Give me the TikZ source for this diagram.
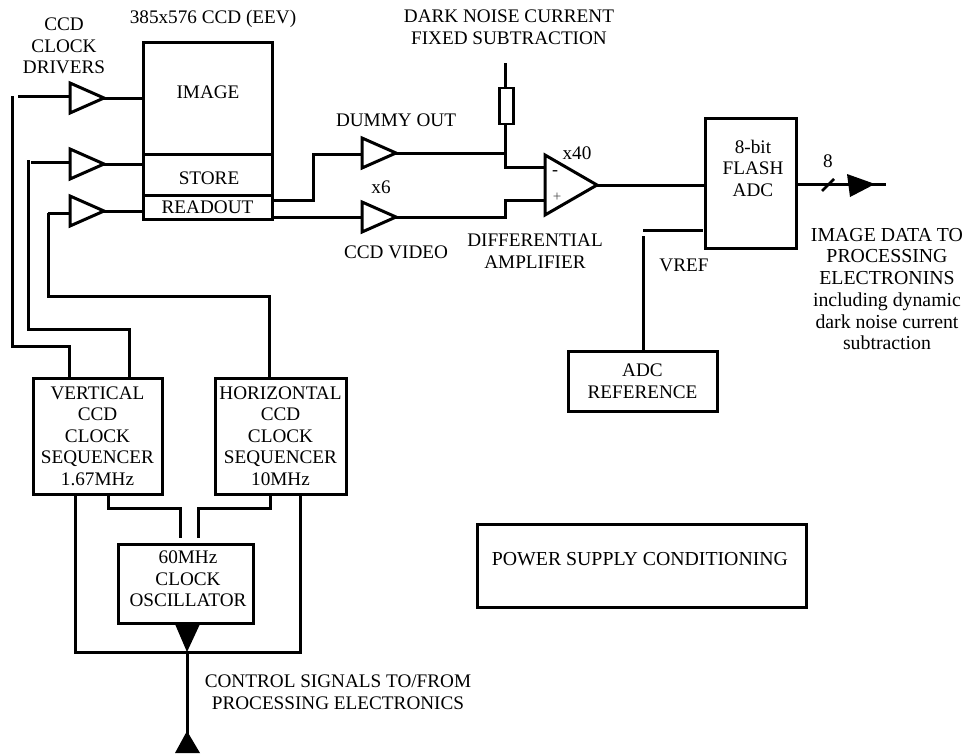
\documentclass[tikz,border=0pt]{standalone}
\usepackage{fontspec}
\setmainfont{Liberation Serif}
\usepackage{xcolor}
\usetikzlibrary{arrows.meta,shapes.geometric,positioning}
\tikzset{
  sigline/.style={line width=3pt,line cap=butt,line join=miter},
  blk/.style={draw,line width=3pt,inner sep=0pt,align=center,font=\fontsize{19.2}{21.5}\selectfont},
  lbl/.style={inner sep=0pt,align=center,font=\fontsize{19.2}{21.5}\selectfont},
  lblwide/.style={lbl,font=\fontsize{19.8}{21.7}\selectfont},
  amp/.style={draw,line width=3pt,isosceles triangle,isosceles triangle stretches,
    minimum width=30pt,minimum height=34pt,inner sep=0pt,outer sep=0pt,anchor=west},
  headfill/.style={fill=black,draw=none}
}
\begin{document}
\begin{tikzpicture}[x=1pt,y=-1pt]
  \useasboundingbox (0,0) rectangle (964,753);

  % ccd
  \node[blk,minimum width=129pt,minimum height=112pt] (imagebox) at (207.5,98) {};
  \node[blk,minimum width=129pt,minimum height=41pt] (storebox) at (207.5,174.5) {};
  \node[blk,minimum width=129pt,minimum height=24pt] (readoutbox) at (207.5,207) {READOUT};
  \node[lbl] (imagelbl) at (208,92) {IMAGE};
  \node[lbl] (storelbl) at (209,178) {STORE};
  \node[lbl] (ccdlbl) at (213,19) {385x576 CCD (EEV)};
  \node[lbl] (driverlbl) at (64,46) {CCD\\CLOCK\\DRIVERS};

  % clock drivers
  \node[amp] (ampa) at (70,98) {};
  \node[amp] (ampb) at (70,164) {};
  \node[amp] (ampc) at (70,211) {};
  \coordinate (ina) at (18,96);
  \coordinate (inb) at (31,162);
  \coordinate (inc) at (48,213);
  \draw[sigline] (ina) -- (ampa.west |- ina);
  \draw[sigline] (inb) -- (ampb.west |- inb);
  \draw[sigline] (inc) -- (ampc.west |- inc);
  \draw[sigline] (ampa.east) -- (imagebox.west |- ampa.east);
  \draw[sigline] (ampb.east) -- (storebox.west |- ampb.east);
  \draw[sigline] (ampc.east) -- (readoutbox.west |- ampc.east);

  % sequencers
  \node[blk,minimum width=129pt,minimum height=116pt] (vertseq) at (97.5,436)
    {VERTICAL\\CCD\\CLOCK\\SEQUENCER\\1.67MHz};
  \node[blk,minimum width=131pt,minimum height=116pt] (horseq) at (280.5,436)
    {HORIZONTAL\\CCD\\CLOCK\\SEQUENCER\\10MHz};
  \node[blk,minimum width=135pt,minimum height=79pt] (osc) at (185.5,583.5) {};
  \node[lbl] (osclbl) at (188,579) {60MHz\\CLOCK\\OSCILLATOR};
  \draw[sigline] (12,96) -- (12,346) -- (69,346) -- (69,346 |- vertseq.north);
  \draw[sigline] (28,160) -- (28,329) -- (129,329) -- (129,329 |- vertseq.north);
  \draw[sigline] (inc) -- (48,296) -- (269,296) -- (269,296 |- horseq.north);
  \draw[sigline] (108,0 |- vertseq.south) -- (108,508) -- (180,508) -- (180,538);
  \draw[sigline] (270,0 |- horseq.south) -- (270,508) -- (198,508) -- (198,538);
  \draw[sigline] (75,0 |- vertseq.south) -- (75,652) -- (300,652) -- (300,0 |- horseq.south);

  % control bus
  \coordinate (busmid) at (187,652);
  \coordinate (busend) at (187,753);
  \draw[sigline] (busmid) -- (busend);
  \fill[headfill] (175,624) -- (200,624) -- (busmid) -- cycle;
  \fill[headfill] (175,753) -- (200,753) -- (187,731) -- cycle;
  \node[lbl] (ctrllbl) at (338,692) {CONTROL SIGNALS TO/FROM\\PROCESSING ELECTRONICS};

  % video chain
  \node[amp] (ampdummy) at (362,153) {};
  \node[amp] (ampvideo) at (362,217) {};
  \node[draw,line width=2.8pt,minimum width=14pt,minimum height=36pt,inner sep=0pt] (res) at (506.5,106) {};
  \node[amp,minimum width=60pt,minimum height=52pt] (diffamp) at (545,185) {};
  \coordinate (resin) at (505.5,63);
  \draw[sigline] (resin) -- (resin |- res.north);
  \draw[sigline] (resin |- res.south) -- (505.5,167) -- (545,167);
  \draw[sigline] (272,200) -- (313,200) -- (313,154) -- (ampdummy.west |- 0,154);
  \draw[sigline] (272,217) -- (ampvideo.west);
  \draw[sigline] (ampdummy.east) -- (505.5,153);
  \draw[sigline] (ampvideo.east) -- (505.5,217) -- (505.5,200) -- (545,200);
  \node[inner sep=0pt,font=\fontsize{18}{18}\selectfont] (minus) at (555,173) {-};
  \node[inner sep=0pt,font=\fontsize{15}{15}\selectfont,text=black!70] (plus) at (557,197) {+};

  \node[lbl] (dummylbl) at (396,120) {DUMMY OUT};
  \node[lbl] (x6lbl) at (381,187) {x6};
  \node[lbl] (videolbl) at (396,252) {CCD VIDEO};
  \node[lbl] (x40lbl) at (577,153) {x40};
  \node[lbl] (difflbl) at (535,251) {DIFFERENTIAL\\AMPLIFIER};
  \node[lbl] (darklbl) at (509,27) {DARK NOISE CURRENT\\FIXED SUBTRACTION};

  % adc
  \node[blk,minimum width=91pt,minimum height=130pt] (adc) at (750.5,183) {};
  \node[lbl] (adclbl) at (753,168) {8-bit\\FLASH\\ADC};
  \node[blk,minimum width=149pt,minimum height=60pt] (adcref) at (642.5,381) {ADC\\REFERENCE};
  \coordinate (vrefa) at (643,230);
  \coordinate (vrefb) at (643,236);
  \coordinate (dataout) at (886,184);
  \draw[sigline] (diffamp.east) -- (adc.west |- diffamp.east);
  \draw[sigline] (vrefa) -- (703,230);
  \draw[sigline] (vrefb) -- (vrefb |- adcref.north);
  \draw[sigline] (adc.east |- dataout) -- (dataout);
  \draw[line width=2.5pt] (822,191) -- (834,179);
  \fill[headfill] (847,174) -- (875,184) -- (850,197) -- cycle;
  \node[lbl] (eightlbl) at (828,161) {8};
  \node[lbl] (vreflbl) at (684,265) {VREF};
  \node[lblwide] (datalbl) at (887,289) {IMAGE DATA TO\\PROCESSING\\ELECTRONINS\\including dynamic\\dark noise current\\subtraction};

  % power
  \node[blk,minimum width=329pt,minimum height=83pt] (power) at (641.5,565.5) {};
  \node[lblwide] (powerlbl) at (640,559) {POWER SUPPLY CONDITIONING};
\end{tikzpicture}
\end{document}
